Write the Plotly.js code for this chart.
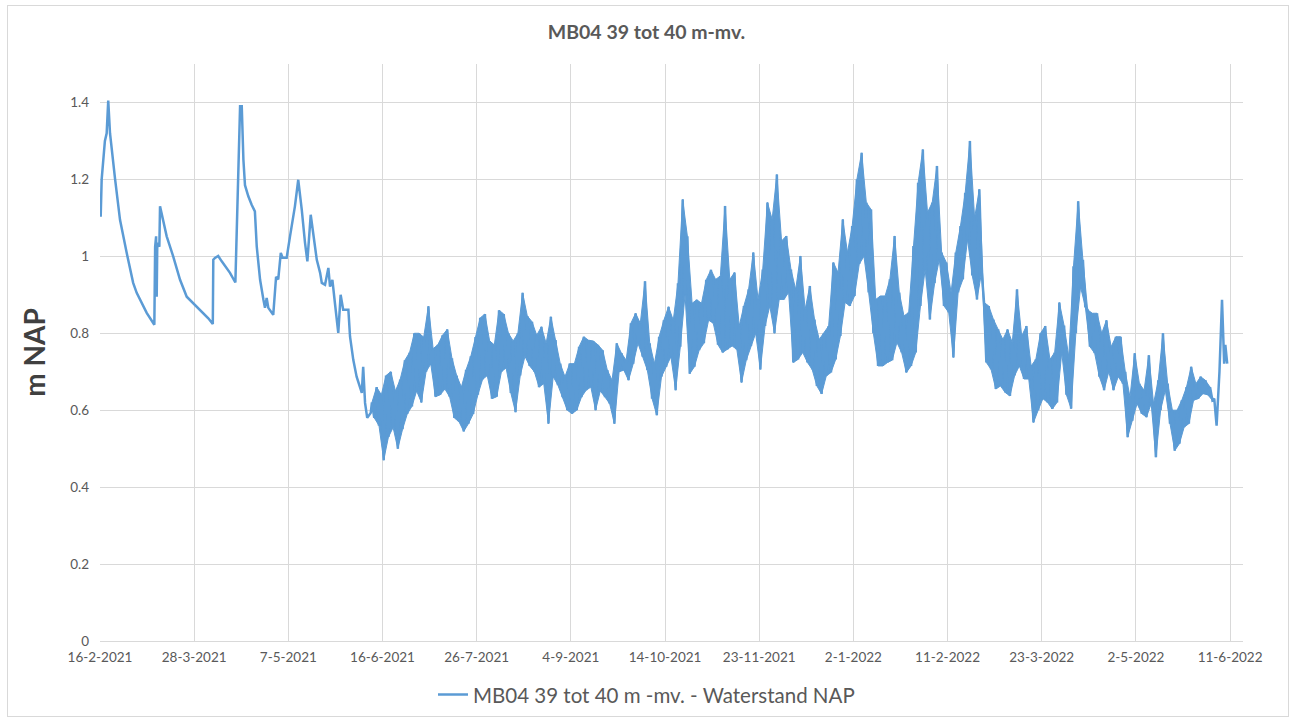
<!DOCTYPE html>
<html>
<head>
<meta charset="utf-8">
<script src="https://cdn.plot.ly/plotly-3.0.1.min.js"></script>
<style>
  html, body { margin: 0; padding: 0; background: #ffffff; }
  #frame { position: absolute; left: 7px; top: 5px; width: 1282px; height: 712px; border: 1px solid #d9d9d9; box-sizing: border-box; }
  #chart { position: absolute; left: 0; top: 0; width: 1293px; height: 720px; }
</style>
</head>
<body>
<div id="frame"></div>
<div id="chart"></div>
<script>
// ---- Data ----
const seriesName = 'MB04 39 tot 40 m -mv. - Waterstand NAP';
const chartTitle = 'MB04 39 tot 40 m-mv.';
const yTitle = 'm NAP';

// Smooth first part (Feb - Jun 2021)
const smoothDates = [
  '2021-02-16 07:00','2021-02-16 17:00','2021-02-18 02:00','2021-02-18 20:00','2021-02-19 12:00',
  '2021-02-20 06:00','2021-02-22 10:00','2021-02-24 12:00','2021-02-27 08:00','2021-03-02 02:00',
  '2021-03-03 14:00','2021-03-05 00:00','2021-03-07 20:00','2021-03-11 02:00','2021-03-11 10:00',
  '2021-03-11 20:00','2021-03-12 02:00','2021-03-12 08:00','2021-03-13 05:00','2021-03-13 12:00',
  '2021-03-14 05:00','2021-03-16 08:00','2021-03-19 02:00','2021-03-22 00:00','2021-03-24 20:00',
  '2021-03-27 14:00','2021-03-31 22:00','2021-04-03 00:00','2021-04-04 22:00','2021-04-05 03:00',
  '2021-04-05 20:00','2021-04-07 05:00','2021-04-08 17:00','2021-04-12 05:00','2021-04-14 12:00',
  '2021-04-15 17:00','2021-04-16 12:00','2021-04-17 05:00','2021-04-17 22:00','2021-04-18 14:00',
  '2021-04-20 00:00','2021-04-21 10:00','2021-04-22 19:00','2021-04-23 14:00','2021-04-25 00:00',
  '2021-04-26 10:00','2021-04-27 02:00','2021-04-27 19:00','2021-04-28 12:00','2021-04-30 14:00',
  '2021-05-01 19:00','2021-05-02 17:00','2021-05-03 19:00','2021-05-04 14:00','2021-05-06 07:00',
  '2021-05-07 17:00','2021-05-09 19:00','2021-05-11 05:00','2021-05-12 00:00','2021-05-12 17:00',
  '2021-05-14 02:00','2021-05-15 02:00','2021-05-16 12:00','2021-05-17 14:00','2021-05-19 02:00',
  '2021-05-20 12:00','2021-05-21 05:00','2021-05-22 14:00','2021-05-24 00:00','2021-05-24 17:00',
  '2021-05-25 17:00','2021-05-26 19:00','2021-05-28 05:00','2021-05-29 05:00','2021-05-30 07:00',
  '2021-06-01 12:00','2021-06-02 05:00','2021-06-03 14:00','2021-06-05 00:00','2021-06-07 05:00',
  '2021-06-07 19:00','2021-06-08 14:00','2021-06-09 12:00','2021-06-11 00:00'
];
const smoothValues = [
  1.103,1.20,1.30,1.32,1.405,
  1.32,1.20,1.095,1.009,0.931,
  0.905,0.887,0.853,0.822,1.025,
  1.052,0.895,1.035,1.025,1.13,
  1.112,1.052,1.0,0.939,0.895,
  0.878,0.852,0.839,0.824,0.991,
  0.996,1.001,0.987,0.957,0.932,
  1.199,1.39,1.39,1.251,1.185,
  1.156,1.134,1.117,1.025,0.939,
  0.887,0.866,0.892,0.866,0.848,
  0.947,0.94,1.009,0.996,0.996,
  1.052,1.13,1.199,1.165,1.121,
  1.035,0.987,1.108,1.061,0.991,
  0.957,0.931,0.926,0.970,0.921,
  0.939,0.878,0.801,0.900,0.861,
  0.861,0.791,0.731,0.687,0.645,
  0.713,0.619,0.580,0.593
];

// Noisy part (Jun 2021 - Jun 2022): high and low of the fluctuation, one pair per 2 days
const bandStart = '2021-06-11 12:00';
const bandStepDays = 2;
const bandHigh = [
  0.62,0.66,0.64,0.69,0.70,0.65,0.68,0.73,0.75,0.80,
  0.80,0.79,0.87,0.76,0.77,0.795,0.81,0.735,0.69,0.66,
  0.705,0.74,0.79,0.84,0.85,0.78,0.77,0.86,0.85,0.80,
  0.78,0.80,0.905,0.845,0.83,0.795,0.817,0.774,0.843,0.782,
  0.721,0.687,0.721,0.721,0.765,0.791,0.782,0.78,0.77,0.756,
  0.704,0.678,0.774,0.748,0.73,0.826,0.852,0.826,0.935,0.774,
  0.721,0.791,0.834,0.869,0.834,0.93,1.148,1.052,0.878,0.887,
  0.878,0.939,0.965,0.94,0.949,1.131,0.94,0.958,0.819,0.871,
  0.914,1.01,0.888,0.966,1.14,1.096,1.213,1.04,1.053,0.966,
  0.914,1.001,0.862,0.923,0.836,0.784,0.80,0.819,0.984,0.958,
  1.096,1.01,1.079,1.2,1.269,1.14,1.122,0.888,0.897,0.897,
  0.94,1.053,0.906,0.845,0.854,1.027,1.191,1.278,1.114,1.14,
  1.235,1.01,0.984,0.906,1.01,1.079,1.165,1.30,1.1,1.174,
  0.88,0.871,0.836,0.81,0.784,0.81,0.776,0.914,0.793,0.819,
  0.715,0.732,0.80,0.819,0.732,0.75,0.88,0.82,0.739,0.974,
  1.143,0.991,0.861,0.852,0.852,0.80,0.834,0.765,0.791,0.791,
  0.70,0.634,0.748,0.669,0.652,0.743,0.617,0.678,0.80,0.669,
  0.60,0.60,0.626,0.66,0.713,0.669,0.687,0.678,0.66
];
const bandLow = [
  0.58,0.56,0.47,0.53,0.555,0.50,0.55,0.59,0.61,0.65,
  0.62,0.70,0.72,0.635,0.64,0.655,0.635,0.58,0.57,0.545,
  0.565,0.59,0.64,0.68,0.69,0.63,0.635,0.70,0.71,0.645,
  0.595,0.69,0.74,0.715,0.70,0.66,0.669,0.565,0.687,0.665,
  0.634,0.60,0.591,0.60,0.634,0.652,0.66,0.60,0.65,0.634,
  0.617,0.565,0.70,0.704,0.678,0.721,0.774,0.739,0.704,0.63,
  0.587,0.687,0.713,0.739,0.652,0.765,0.90,0.695,0.713,0.756,
  0.774,0.834,0.826,0.77,0.75,0.758,0.767,0.758,0.672,0.73,
  0.767,0.80,0.706,0.819,0.871,0.80,0.888,0.888,0.906,0.724,
  0.732,0.75,0.724,0.706,0.663,0.642,0.689,0.698,0.732,0.793,
  0.88,0.871,0.897,0.98,1.0,0.906,0.80,0.715,0.715,0.724,
  0.73,0.776,0.75,0.698,0.715,0.75,0.871,0.966,0.836,0.93,
  0.992,0.871,0.854,0.737,0.906,0.94,1.044,0.95,0.888,0.96,
  0.724,0.706,0.655,0.663,0.646,0.637,0.69,0.715,0.681,0.681,
  0.568,0.60,0.63,0.62,0.603,0.62,0.75,0.64,0.604,0.80,
  0.92,0.87,0.765,0.748,0.687,0.652,0.70,0.652,0.687,0.669,
  0.53,0.573,0.617,0.591,0.582,0.617,0.478,0.60,0.652,0.565,
  0.495,0.513,0.556,0.565,0.626,0.63,0.643,0.64,0.626
];

// Last days (June 2022)
const tailDates = ['2022-06-04 07:00','2022-06-05 07:00','2022-06-06 12:00','2022-06-07 14:00','2022-06-08 00:00','2022-06-08 12:00','2022-06-09 00:00','2022-06-09 12:00','2022-06-09 19:00'];
const tailValues = [0.63,0.56,0.70,0.887,0.80,0.721,0.77,0.74,0.721];

// Axis ticks
const xTickDates = ['2021-02-16','2021-03-28','2021-05-07','2021-06-16','2021-07-26','2021-09-04','2021-10-14','2021-11-23','2022-01-02','2022-02-11','2022-03-23','2022-05-02','2022-06-11'];
const xTickLabels = ['16-2-2021','28-3-2021','7-5-2021','16-6-2021','26-7-2021','4-9-2021','14-10-2021','23-11-2021','2-1-2022','11-2-2022','23-3-2022','2-5-2022','11-6-2022'];
const yTickValues = [0,0.2,0.4,0.6,0.8,1.0,1.2,1.4];
const yTickLabels = ['0','0.2','0.4','0.6','0.8','1','1.2','1.4'];

// ---- Build traces ----
function addDays(str, days) {
  const p = str.split(/[- :]/).map(Number);
  const t = Date.UTC(p[0], p[1]-1, p[2], p[3]||0, p[4]||0) + days*86400000;
  return new Date(t).toISOString().slice(0,16).replace('T',' ');
}
const hiDates = bandHigh.map((_, k) => addDays(bandStart, bandStepDays*k));
const loDates = bandLow.map((_, k) => addDays(bandStart, bandStepDays*k + 1));

const lineX = [...smoothDates];
const lineY = [...smoothValues];
for (let k = 0; k < bandHigh.length; k++) {
  lineX.push(hiDates[k]); lineY.push(bandHigh[k]);
  lineX.push(loDates[k]); lineY.push(bandLow[k]);
}
lineX.push(...tailDates); lineY.push(...tailValues);

const bandX = [...hiDates, ...loDates.slice().reverse()];
const bandY = [...bandHigh, ...bandLow.slice().reverse()];

const blue = '#5B9BD5';
const traces = [
  { x: bandX, y: bandY, type: 'scatter', mode: 'lines', fill: 'toself', fillcolor: blue,
    line: { color: blue, width: 1 }, showlegend: false, hoverinfo: 'skip' },
  { x: lineX, y: lineY, type: 'scatter', mode: 'lines', name: seriesName,
    line: { color: blue, width: 2.5 } }
];

const fontFam = 'Lato, "Open Sans", sans-serif';
const layout = {
  width: 1293, height: 720,
  paper_bgcolor: 'rgba(0,0,0,0)', plot_bgcolor: '#ffffff',
  margin: { l: 100, r: 50, t: 64, b: 79, autoexpand: false },
  font: { family: fontFam, color: '#595959' },
  title: { text: '<b>' + chartTitle + '</b>', x: 0.5, xanchor: 'center', y: 0.955, yanchor: 'middle',
           font: { family: fontFam, size: 19.5, color: '#595959' } },
  xaxis: {
    type: 'date', range: ['2021-02-16', '2022-06-16 12:00'],
    tickmode: 'array', tickvals: xTickDates, ticktext: xTickLabels,
    showgrid: true, gridcolor: '#d9d9d9', gridwidth: 1,
    showline: true, linecolor: '#d9d9d9', linewidth: 1,
    zeroline: false, ticks: '', ticklabelstandoff: 4,
    tickfont: { size: 13.5, color: '#595959' },
    fixedrange: true
  },
  yaxis: {
    range: [0, 1.5], tickmode: 'array', tickvals: yTickValues, ticktext: yTickLabels,
    showgrid: true, gridcolor: '#d9d9d9', gridwidth: 1,
    zeroline: false, showline: false, ticks: '', ticklabelstandoff: 10,
    tickfont: { size: 13.5, color: '#595959' },
    title: { text: '<b>' + yTitle + '</b>', standoff: 16, font: { family: fontFam, size: 28, color: '#404040' } },
    fixedrange: true
  },
  showlegend: true,
  legend: { orientation: 'h', x: 0.5, xanchor: 'center', xref: 'container', y: 0.035, yref: 'container', yanchor: 'middle',
            font: { size: 20.5, color: '#595959' }, itemwidth: 30 },
};

Plotly.newPlot('chart', traces, layout, { displayModeBar: false, staticPlot: true });
</script>
</body>
</html>
